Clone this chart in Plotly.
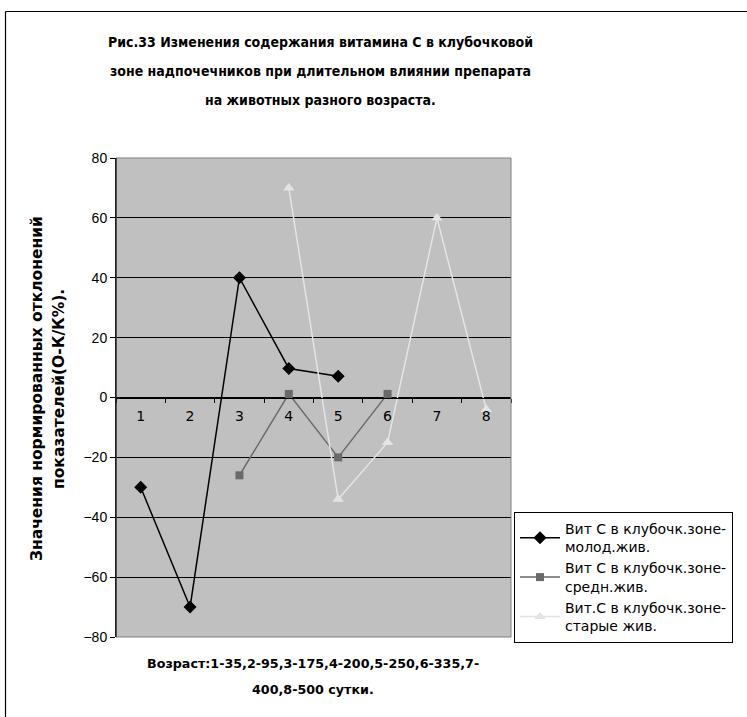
import plotly.graph_objects as go

categories = ["1", "2", "3", "4", "5", "6", "7", "8"]
young = [-30, -70, 40, 9.7, 7.1, None, None, None]
middle = [None, None, -26, 1.2, -20, 1.2, None, None]
old = [None, None, None, 70, -34, -15, 60, -4]
series_names = [
    "Вит С в клубочк.зоне-<br>молод.жив.",
    "Вит С в клубочк.зоне-<br>средн.жив.",
    "Вит.С в клубочк.зоне-<br>старые жив.",
]
y_ticks = [-80, -60, -40, -20, 0, 20, 40, 60, 80]

title_lines = ["Рис.33 Изменения содержания витамина С в клубочковой",
               "зоне надпочечников при длительном влиянии препарата",
               "на животных разного возраста."]
y_title_lines = ["Значения нормированных отклонений", "показателей(О-К/К%)."]
x_title_lines = ["Возраст:1-35,2-95,3-175,4-200,5-250,6-335,7-",
                 "400,8-500 сутки."]

W, H = 747, 717
L, R, T, B = 116, 511, 158, 637

fig = go.Figure()
fig.add_trace(go.Scatter(x=categories, y=young, name=series_names[0], mode="lines+markers",
                         line=dict(color="#000000", width=1.5),
                         marker=dict(symbol="diamond", size=10, color="#000000")))
fig.add_trace(go.Scatter(x=categories, y=middle, name=series_names[1], mode="lines+markers",
                         line=dict(color="#6a6a6a", width=1.5),
                         marker=dict(symbol="square", size=8, color="#6a6a6a")))
fig.add_trace(go.Scatter(x=categories, y=old, name=series_names[2], mode="lines+markers",
                         line=dict(color="#e4e4e4", width=1.5),
                         marker=dict(symbol="triangle-up", size=10, color="#e4e4e4")))

def px_x(p):
    return (p - L) / (R - L)

def px_y(p):
    return (B - p) / (B - T)

annotations = []
for line, yc in zip(title_lines, [42, 71, 100]):
    annotations.append(dict(text="<b>" + line + "</b>", x=px_x(320), y=px_y(yc),
                            xref="paper", yref="paper", showarrow=False,
                            xanchor="center", yanchor="middle",
                            font=dict(family="DejaVu Sans Condensed", size=14, color="#000000")))
for line, xc in zip(y_title_lines, [37, 59]):
    annotations.append(dict(text="<b>" + line + "</b>", x=px_x(xc), y=px_y(389),
                            xref="paper", yref="paper", showarrow=False,
                            xanchor="center", yanchor="middle", textangle=-90,
                            font=dict(family="DejaVu Sans", size=15.5, color="#000000")))
for line, yc in zip(x_title_lines, [663, 689]):
    annotations.append(dict(text="<b>" + line + "</b>", x=px_x(313), y=px_y(yc),
                            xref="paper", yref="paper", showarrow=False,
                            xanchor="center", yanchor="middle",
                            font=dict(family="DejaVu Sans", size=12.7, color="#000000")))

fig.update_layout(
    width=W, height=H,
    margin=dict(l=L, r=W - R, t=T, b=H - B, pad=0),
    paper_bgcolor="white",
    plot_bgcolor="#c0c0c0",
    showlegend=True,
    legend=dict(x=px_x(514), y=px_y(512), xanchor="left", yanchor="top",
                bgcolor="white", bordercolor="#000000", borderwidth=1,
                font=dict(family="DejaVu Sans", size=14, color="#000000"),
                itemwidth=40, tracegroupgap=0),
    xaxis=dict(type="category", categoryorder="array", categoryarray=categories,
               range=[-0.5, 7.5], anchor="free", position=0.5,
               showline=True, linecolor="#000000", linewidth=1,
               ticks="outside", ticklen=4, tickcolor="#000000", tickson="boundaries",
               showgrid=False, zeroline=False, ticklabelstandoff=6,
               tickfont=dict(family="DejaVu Sans", size=14, color="#000000")),
    yaxis=dict(range=[-80, 80], tickvals=y_ticks, showline=True, linecolor="#000000",
               linewidth=1, ticks="outside", ticklen=5, tickcolor="#000000",
               showgrid=True, gridcolor="#000000", gridwidth=1, zeroline=False,
               tickfont=dict(family="Liberation Sans", size=14, color="#000000")),
    annotations=annotations,
    shapes=[
        dict(type="rect", xref="paper", yref="paper", x0=0, x1=1, y0=0, y1=1,
             line=dict(color="#808080", width=1), fillcolor="rgba(0,0,0,0)", layer="above"),
        dict(type="line", xref="paper", yref="paper", x0=0, x1=0, y0=0, y1=1,
             line=dict(color="#000000", width=1), layer="above"),
        dict(type="line", xref="paper", yref="paper", x0=px_x(5.5), x1=px_x(747),
             y0=px_y(11.5), y1=px_y(11.5), line=dict(color="#000000", width=1.2)),
        dict(type="line", xref="paper", yref="paper", x0=px_x(5.5), x1=px_x(5.5),
             y0=px_y(11.5), y1=px_y(717), line=dict(color="#000000", width=1.2)),
    ],
)

fig.write_html("out.html")
